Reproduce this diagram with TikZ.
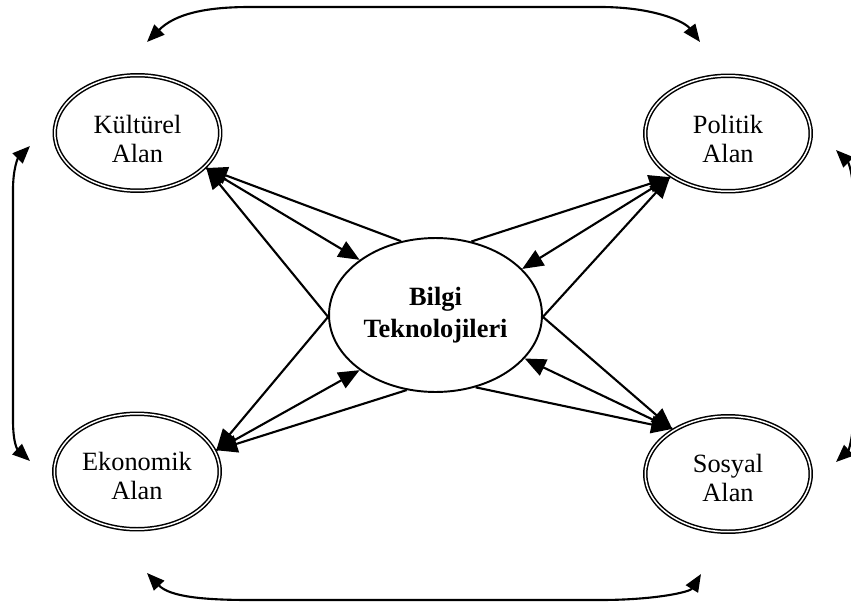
\documentclass[tikz,border=0pt]{standalone}
\usepackage{fontspec}
\setmainfont{Liberation Serif}
\usetikzlibrary{arrows.meta,shapes.geometric}
\begin{document}
\begin{tikzpicture}[x=0.02cm,y=-0.02cm,
  area/.style={ellipse,draw,double,line width=0.85pt,double distance=0.85pt,
    minimum width=3.31cm,minimum height=2.31cm,inner sep=0pt,outer sep=1.2pt},
  areatext/.style={align=center,inner sep=0pt,font=\fontsize{15}{16.5}\selectfont},
  hub/.style={ellipse,draw,line width=1.1pt,minimum width=4.26cm,minimum height=3.08cm,
    inner sep=0pt,align=center,font=\fontsize{15}{18}\selectfont\bfseries},
  conn/.style={line width=1.2pt},
  hout/.style={conn,{Triangle[length=12pt,width=10pt]}-},
  hin/.style={conn,-{Triangle[length=12pt,width=10pt]}},
  loop/.style={line width=1.2pt,{Triangle[length=10pt,width=8pt]}-{Triangle[length=10pt,width=8pt]}}
]
\useasboundingbox (0,0) rectangle (851,608);

\node[area] (kult) at (137.5,133) {};
\node[area] (pol) at (728,133.5) {};
\node[area] (eko) at (137,471.5) {};
\node[area] (sos) at (728,474) {};
\node[areatext] (kultT) at ([yshift=-1.1mm]kult.center) {Kültürel\\Alan};
\node[areatext] (polT) at ([yshift=-1.1mm]pol.center) {Politik\\Alan};
\node[areatext] (ekoT) at ([yshift=-0.8mm]eko.center) {Ekonomik\\Alan};
\node[areatext] (sosT) at ([yshift=-0.8mm]sos.center) {Sosyal\\Alan};
\node[hub] (bilgi) at (435.5,315) {Bilgi\\Teknolojileri};

% Kulturel
\draw[hout] (kult.-27) -- (bilgi.115);
\draw[hin]  (kult.-27) -- (bilgi.144);
\draw[hout] (kult.-27) -- (bilgi.181);
% Politik
\draw[hout] (pol.217) -- (bilgi.64);
\draw[hin]  (pol.217) -- (bilgi.28);
\draw[hout] (pol.217) -- (bilgi.-1);
% Ekonomik
\draw[hout] (eko.15) -- (bilgi.181);
\draw[hin]  (eko.15) -- (bilgi.216);
\draw[hout] (eko.15) -- (bilgi.249);
% Sosyal
\draw[hout] (sos.141) -- (bilgi.-1);
\draw[hin]  (sos.141) -- (bilgi.-26);
\draw[hout] (sos.141) -- (bilgi.-61);

% outer loops
\coordinate (tl) at (147,42);
\coordinate (tr) at (700,42);
\coordinate (bl) at (147,573);
\coordinate (br) at (701,574);
\coordinate (lt) at (30,146);
\coordinate (lb) at (30,461);
\coordinate (rt) at (836,150);
\coordinate (rb) at (836,462);

\draw[loop] (tl) .. controls (175,14) and (205,7) .. (250,7) -- (600,7)
  .. controls (655,7) and (685,22) .. (tr);
\draw[loop] (bl) .. controls (170,597) and (205,600) .. (250,600) -- (600,600)
  .. controls (655,600) and (690,592) .. (br);
\draw[loop] (lt) .. controls (18,158) and (13,168) .. (13,190) -- (13,420)
  .. controls (13,445) and (18,450) .. (lb);
\begin{scope}
\clip (0,0) rectangle (851,608);
\draw[loop] (rt) .. controls (848,162) and (853,172) .. (853,194) -- (853,418)
  .. controls (853,440) and (848,451) .. (rb);
\end{scope}
\end{tikzpicture}
\end{document}
